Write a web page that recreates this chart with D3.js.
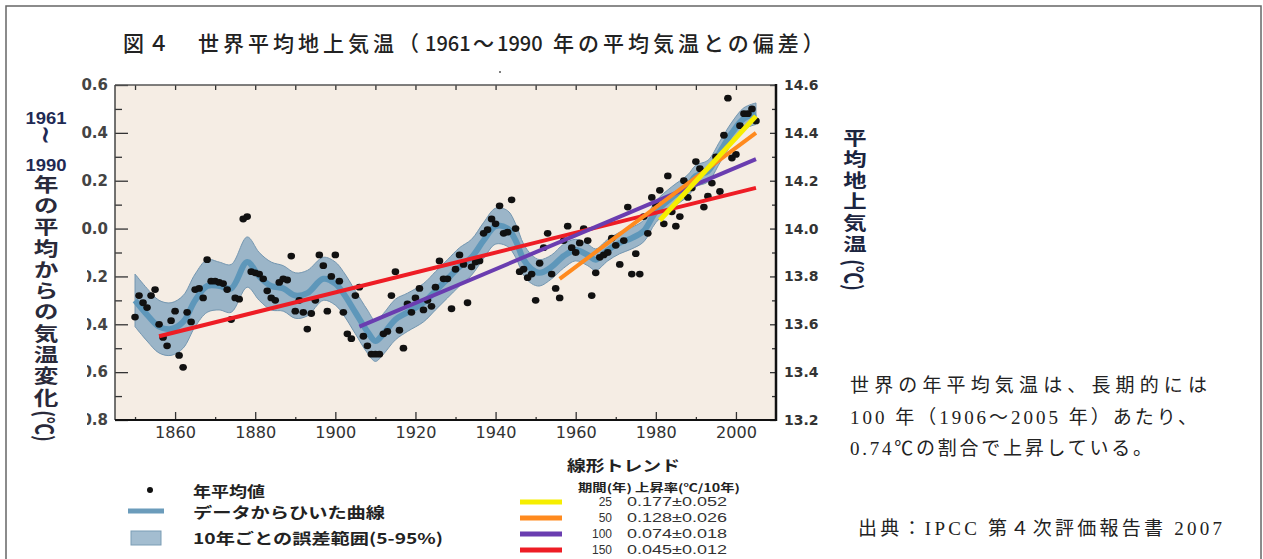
<!DOCTYPE html>
<html>
<head>
<meta charset="utf-8">
<script src="https://cdn.jsdelivr.net/npm/d3@7"></script>
<style>
  body { margin: 0; background: #fff; }
  svg { display: block; }
</style>
</head>
<body>
<script>

// annual global mean anomaly (deg C, vs 1961-1990), one value per year from 1850
var firstYear = 1850;
var anomalies = [
  -0.37, -0.28, -0.31, -0.33, -0.28, -0.255, -0.40, -0.455, -0.49, -0.385,
  -0.345, -0.53, -0.58, -0.35, -0.39, -0.255, -0.25, -0.29, -0.13, -0.22,
  -0.22, -0.225, -0.23, -0.255, -0.38, -0.29, -0.295, 0.04, 0.05, -0.18,
  -0.185, -0.19, -0.21, -0.26, -0.29, -0.30, -0.225, -0.21, -0.215, -0.115,
  -0.345, -0.30, -0.35, -0.42, -0.355, -0.30, -0.11, -0.155, -0.345, -0.20,
  -0.11, -0.22, -0.35, -0.44, -0.46, -0.28, -0.245, -0.45, -0.49, -0.525,
  -0.525, -0.525, -0.44, -0.43, -0.28, -0.18, -0.425, -0.50, -0.315, -0.35,
  -0.29, -0.25, -0.34, -0.30, -0.325, -0.245, -0.135, -0.21, -0.21, -0.335,
  -0.17, -0.11, -0.15, -0.31, -0.16, -0.14, -0.135, -0.02, -0.005, 0.04,
  0.02, 0.095, -0.02, -0.015, 0.12, 0.00, -0.18, -0.17, -0.205, -0.19,
  -0.30, -0.145, -0.08, -0.02, -0.19, -0.25, -0.29, -0.05, 0.01, -0.08,
  -0.10, -0.06, 0.00, -0.05, -0.28, -0.185, -0.12, -0.11, -0.10, -0.04,
  -0.07, -0.15, -0.05, 0.09, -0.19, -0.105, -0.19, 0.05, -0.02, 0.13,
  0.10, 0.16, 0.02, 0.22, 0.07, 0.01, 0.05, 0.20, 0.13, 0.17,
  0.28, 0.25, 0.09, 0.135, 0.19, 0.30, 0.155, 0.39, 0.545, 0.295,
  0.31, 0.43, 0.48, 0.48, 0.50, 0.45
];

// decadal curve and its 5-95% range
var smoothYears = [1850, 1853, 1856, 1859, 1862, 1865, 1868, 1871, 1874, 1878,
  1881, 1884, 1887, 1890, 1893, 1897, 1900, 1902, 1905, 1908,
  1910, 1912, 1915, 1918, 1922, 1925, 1928, 1931, 1934, 1937,
  1940, 1943, 1945, 1947, 1949, 1951, 1954, 1957, 1960, 1963,
  1965, 1968, 1971, 1974, 1977, 1980, 1984, 1988, 1990, 1993,
  1996, 1999, 2002, 2005];
var smoothValues = [-0.30, -0.36, -0.41, -0.42, -0.39, -0.30, -0.24, -0.24, -0.25, -0.14,
  -0.20, -0.24, -0.25, -0.28, -0.27, -0.21, -0.23, -0.27, -0.35, -0.43,
  -0.47, -0.44, -0.38, -0.35, -0.31, -0.26, -0.21, -0.16, -0.12, -0.05,
  0.01, 0.00, -0.05, -0.13, -0.17, -0.185, -0.16, -0.115, -0.09, -0.11,
  -0.13, -0.09, -0.06, -0.04, -0.01, 0.07, 0.13, 0.18, 0.22, 0.24,
  0.32, 0.40, 0.46, 0.48];
var bandHalfWidth = [0.11, 0.11, 0.11, 0.11, 0.11, 0.11, 0.11, 0.10, 0.10, 0.105,
  0.10, 0.10, 0.095, 0.095, 0.095, 0.09, 0.09, 0.09, 0.09, 0.09,
  0.085, 0.085, 0.085, 0.08, 0.08, 0.08, 0.08, 0.08, 0.075, 0.075,
  0.075, 0.075, 0.07, 0.065, 0.06, 0.055, 0.05, 0.05, 0.045, 0.045,
  0.045, 0.045, 0.045, 0.045, 0.045, 0.045, 0.045, 0.045, 0.045, 0.045,
  0.045, 0.045, 0.045, 0.045];

// linear trends
var trendPeriods = ["25", "50", "100", "150"];
var trendRates = ["0.177±0.052", "0.128±0.026", "0.074±0.018", "0.045±0.012"];
var trendStartYear = [1981, 1956, 1906, 1856];
var trendEndYear = [2005, 2005, 2005, 2005];
var trendStartValue = [0.035, -0.21, -0.41, -0.45];
var trendEndValue = [0.47, 0.40, 0.29, 0.17];
var trendColors = ["#f6ee00", "#ff8a1e", "#6a3db0", "#ee1d25"];

// axes
var yTicks = [-0.8, -0.6, -0.4, -0.2, 0.0, 0.2, 0.4, 0.6];
var yTickLabels = ["-0.8", "-0.6", "-0.4", "-0.2", "0.0", "0.2", "0.4", "0.6"];
var yMinorTicks = [-0.7, -0.5, -0.3, -0.1, 0.1, 0.3, 0.5];
var rightTicks = [13.2, 13.4, 13.6, 13.8, 14.0, 14.2, 14.4, 14.6];
var rightTickLabels = ["13.2", "13.4", "13.6", "13.8", "14.0", "14.2", "14.4", "14.6"];
var rightMinorTicks = [13.3, 13.5, 13.7, 13.9, 14.1, 14.3, 14.5];
var xTicks = [1860, 1880, 1900, 1920, 1940, 1960, 1980, 2000];
var xMinorTicks = [1850, 1870, 1890, 1910, 1930, 1950, 1970, 1990];

var jp = "'Noto Sans CJK JP', sans-serif";
var w = 1263, h = 559;
var margin = {top: 85, right: 487, bottom: 139, left: 115};

var svg = d3.select("body").append("svg")
  .attr("width", w)
  .attr("height", h);

// outer frame of the page
svg.append("rect")
  .attr("x", 6).attr("y", 6)
  .attr("width", 1255).attr("height", 600)
  .style("fill", "none")
  .style("stroke", "#666")
  .style("stroke-width", 1.5);

// title, pieces placed one by one so the digits stay tight
var title = svg.append("text")
  .attr("y", 51)
  .style("font-family", jp)
  .style("font-size", "21px")
  .style("font-weight", 500)
  .style("fill", "#222");
title.append("tspan").attr("x", 123).style("letter-spacing", "4px").text("図４　世界平均地上気温（");
title.append("tspan").attr("x", 425).style("font-size", "20px").text("1961");
title.append("tspan").attr("x", 473).text("～");
title.append("tspan").attr("x", 497).style("font-size", "20px").text("1990");
title.append("tspan").attr("x", 553).style("letter-spacing", "4px").text("年の平均気温との偏差）");

var xScale = d3.scaleLinear()
  .domain([1845, 2010])
  .range([margin.left, w - margin.right]);

var yScale = d3.scaleLinear()
  .domain([-0.8, 0.6])
  .range([h - margin.bottom, margin.top]);

var yRight = d3.scaleLinear()
  .domain([13.2, 14.6])
  .range([h - margin.bottom, margin.top]);

var x0 = margin.left, x1 = w - margin.right, y0 = margin.top, y1 = h - margin.bottom;

// plot background
svg.append("rect")
  .attr("x", x0).attr("y", y0)
  .attr("width", x1 - x0).attr("height", y1 - y0)
  .style("fill", "#f5ede4");

svg.append("clipPath").attr("id", "plotclip")
  .append("rect")
  .attr("x", x0).attr("y", y0)
  .attr("width", x1 - x0).attr("height", y1 - y0);

var plot = svg.append("g").attr("clip-path", "url(#plotclip)");

// error band
var band = d3.area()
  .x(function(d, i) { return xScale(smoothYears[i]); })
  .y0(function(d, i) { return yScale(smoothValues[i] - bandHalfWidth[i]); })
  .y1(function(d, i) { return yScale(smoothValues[i] + bandHalfWidth[i]); })
  .curve(d3.curveCatmullRom);

plot.append("path")
  .datum(smoothYears)
  .attr("d", band)
  .style("fill", "#9bb5c8")
  .style("stroke", "#7396b0")
  .style("stroke-width", 1);

// decadal curve
var smoothLine = d3.line()
  .x(function(d, i) { return xScale(smoothYears[i]); })
  .y(function(d, i) { return yScale(smoothValues[i]); })
  .curve(d3.curveCatmullRom);

plot.append("path")
  .datum(smoothYears)
  .attr("d", smoothLine)
  .style("fill", "none")
  .style("stroke", "#5e97ba")
  .style("stroke-width", 6)
  .style("stroke-linejoin", "round");

// yearly values
plot.selectAll(".dot")
  .data(anomalies)
  .enter().append("ellipse")
  .attr("class", "dot")
  .attr("cx", function(d, i) { return xScale(firstYear + i); })
  .attr("cy", function(d) { return yScale(d); })
  .attr("rx", 3.8)
  .attr("ry", 3.4)
  .style("fill", "#111");

// trend lines, longest period drawn first
var order = [3, 2, 1, 0];
order.forEach(function(k) {
  plot.append("line")
    .attr("x1", xScale(trendStartYear[k]))
    .attr("y1", yScale(trendStartValue[k]))
    .attr("x2", xScale(trendEndYear[k]))
    .attr("y2", yScale(trendEndValue[k]))
    .style("stroke", trendColors[k])
    .style("stroke-width", k == 0 ? 5 : 4);
});

// axes
function styleAxis(g, size, weight, color) {
  g.select(".domain").remove();
  g.selectAll("line").style("stroke", "#333").style("stroke-width", 1.3);
  g.selectAll("text")
    .style("font-family", "'DejaVu Sans', sans-serif")
    .style("font-size", size)
    .style("font-weight", weight)
    .style("fill", color);
}

svg.append("g")
  .attr("transform", "translate(" + x0 + ",0)")
  .call(d3.axisLeft(yScale).tickValues(yTicks).tickSize(-13).tickPadding(7)
    .tickFormat(function(d, i) { return yTickLabels[i]; }))
  .call(styleAxis, "15px", "bold", "#444");

svg.append("g")
  .attr("transform", "translate(" + x0 + ",0)")
  .call(d3.axisLeft(yScale).tickValues(yMinorTicks).tickSize(-7).tickFormat(""))
  .call(styleAxis, "15px", "bold", "#444");

svg.append("g")
  .attr("transform", "translate(" + x1 + ",0)")
  .call(d3.axisRight(yRight).tickValues(rightTicks).tickSize(-6).tickPadding(8)
    .tickFormat(function(d, i) { return rightTickLabels[i]; }))
  .call(styleAxis, "14px", "bold", "#333");

svg.append("g")
  .attr("transform", "translate(" + x1 + ",0)")
  .call(d3.axisRight(yRight).tickValues(rightMinorTicks).tickSize(-4).tickFormat(""))
  .call(styleAxis, "14px", "bold", "#333");

svg.append("g")
  .attr("transform", "translate(0," + y1 + ")")
  .call(d3.axisBottom(xScale).tickValues(xTicks).tickSize(-8).tickPadding(7)
    .tickFormat(d3.format("d")))
  .call(styleAxis, "15px", "normal", "#333")
  .selectAll("text")
  .attr("textLength", 41)
  .attr("lengthAdjust", "spacingAndGlyphs");

svg.append("g")
  .attr("transform", "translate(0," + y1 + ")")
  .call(d3.axisBottom(xScale).tickValues(xMinorTicks).tickSize(-3).tickFormat(""))
  .call(styleAxis, "15px", "normal", "#333");

svg.append("g")
  .attr("transform", "translate(0," + y0 + ")")
  .call(d3.axisTop(xScale).tickValues(xTicks.concat(xMinorTicks)).tickSize(-5).tickFormat(""))
  .call(styleAxis, "15px", "normal", "#333");

// plot frame
svg.append("line").attr("x1", x0).attr("y1", y0).attr("x2", x1).attr("y2", y0)
  .style("stroke", "#555").style("stroke-width", 1.5);
svg.append("line").attr("x1", x0).attr("y1", y0).attr("x2", x0).attr("y2", y1)
  .style("stroke", "#444").style("stroke-width", 1.5);
svg.append("line").attr("x1", x1).attr("y1", y0 - 1).attr("x2", x1).attr("y2", y1 + 1)
  .style("stroke", "#111").style("stroke-width", 2.5);
svg.append("line").attr("x1", x0).attr("y1", y1).attr("x2", x1).attr("y2", y1)
  .style("stroke", "#111").style("stroke-width", 2);

// stray mark above the plot
svg.append("circle").attr("cx", 500).attr("cy", 72).attr("r", 1).style("fill", "#555");

// left title sits on a white patch that hides the minus signs
svg.append("rect")
  .attr("x", 8).attr("y", 240)
  .attr("width", 79).attr("height", 205)
  .style("fill", "#fff");

svg.append("text")
  .attr("x", 46).attr("y", 124)
  .attr("text-anchor", "middle")
  .attr("textLength", 41).attr("lengthAdjust", "spacingAndGlyphs")
  .style("font-family", "'Liberation Sans', sans-serif")
  .style("font-size", "16px")
  .style("font-weight", "bold")
  .style("fill", "#1f2a55")
  .text("1961");

svg.append("text")
  .attr("transform", "translate(45,135) rotate(90)")
  .attr("text-anchor", "middle")
  .attr("dominant-baseline", "central")
  .style("font-family", "'DejaVu Sans', sans-serif")
  .style("font-size", "24px")
  .style("font-weight", "bold")
  .style("fill", "#1f2a55")
  .text("~");

svg.append("text")
  .attr("x", 46).attr("y", 171)
  .attr("text-anchor", "middle")
  .attr("textLength", 41).attr("lengthAdjust", "spacingAndGlyphs")
  .style("font-family", "'Liberation Sans', sans-serif")
  .style("font-size", "16px")
  .style("font-weight", "bold")
  .style("fill", "#1f2a55")
  .text("1990");

// vertical Japanese axis titles, glyphs a little widened like the scan
svg.append("text")
  .attr("x", 46).attr("y", 175)
  .attr("transform", "translate(46,0) scale(1.3,1) translate(-46,0)")
  .style("writing-mode", "vertical-rl")
  .style("letter-spacing", "2.3px")
  .style("font-family", jp)
  .style("font-size", "19px")
  .style("font-weight", "bold")
  .style("fill", "#2a2a3a")
  .text("年の平均からの気温変化");

svg.append("text")
  .attr("transform", "translate(46,426) rotate(90) scale(1,1.3)")
  .attr("text-anchor", "middle")
  .attr("dominant-baseline", "central")
  .style("font-family", jp)
  .style("font-size", "18px")
  .style("font-weight", "bold")
  .style("fill", "#2a2a3a")
  .text("(℃)");

svg.append("text")
  .attr("x", 855).attr("y", 129)
  .attr("transform", "translate(855,0) scale(1.3,1) translate(-855,0)")
  .style("writing-mode", "vertical-rl")
  .style("letter-spacing", "3.2px")
  .style("font-family", jp)
  .style("font-size", "18px")
  .style("font-weight", "bold")
  .style("fill", "#1c2540")
  .text("平均地上気温");

svg.append("text")
  .attr("transform", "translate(855,275) rotate(90) scale(1,1.3)")
  .attr("text-anchor", "middle")
  .attr("dominant-baseline", "central")
  .style("font-family", jp)
  .style("font-size", "18px")
  .style("font-weight", "bold")
  .style("fill", "#1c2540")
  .text("(℃)");

// note on the right
var note = ["世界の年平均気温は、長期的には",
  "100 年（1906～2005 年）あたり、",
  "0.74℃の割合で上昇している。"];
var noteLength = [357, 347, 302];
svg.selectAll(".note")
  .data(note)
  .enter().append("text")
  .attr("class", "note")
  .attr("x", 850)
  .attr("y", function(d, i) { return 392 + i * 31.5; })
  .attr("textLength", function(d, i) { return noteLength[i]; })
  .attr("lengthAdjust", "spacing")
  .style("font-family", "'Liberation Serif', 'Noto Sans CJK JP', serif")
  .style("font-size", "19px")
  .style("fill", "#222")
  .text(function(d) { return d; });

svg.append("text")
  .attr("x", 858).attr("y", 535)
  .attr("textLength", 364)
  .attr("lengthAdjust", "spacing")
  .style("font-family", "'Liberation Serif', 'Noto Sans CJK JP', serif")
  .style("font-size", "19px")
  .style("fill", "#222")
  .text("出典：IPCC 第４次評価報告書 2007");

// legend, left block
var leg = svg.append("g")
  .style("font-family", jp)
  .style("font-size", "15px")
  .style("font-weight", "bold")
  .style("fill", "#222");

leg.append("circle").attr("cx", 150).attr("cy", 490).attr("r", 3).style("fill", "#111");
leg.append("line").attr("x1", 128).attr("y1", 511).attr("x2", 164).attr("y2", 511)
  .style("stroke", "#6b9cbb").style("stroke-width", 5);
leg.append("rect").attr("x", 131).attr("y", 531).attr("width", 30).attr("height", 14)
  .style("fill", "#a3bdd0").style("stroke", "#7b9db5");

leg.append("text").attr("x", 193).attr("y", 497)
  .attr("textLength", 72).attr("lengthAdjust", "spacingAndGlyphs")
  .text("年平均値");
leg.append("text").attr("x", 193).attr("y", 518)
  .attr("textLength", 192).attr("lengthAdjust", "spacingAndGlyphs")
  .text("データからひいた曲線");
leg.append("text").attr("x", 193).attr("y", 544)
  .attr("textLength", 250).attr("lengthAdjust", "spacingAndGlyphs")
  .text("10年ごとの誤差範囲(5-95%)");

// legend, linear trends
var tleg = svg.append("g")
  .style("font-family", jp)
  .style("font-weight", "bold")
  .style("fill", "#222");

tleg.append("text").attr("x", 567).attr("y", 471)
  .attr("textLength", 113).attr("lengthAdjust", "spacingAndGlyphs")
  .style("font-size", "15px")
  .text("線形トレンド");

tleg.append("text").attr("x", 578).attr("y", 492)
  .attr("textLength", 162).attr("lengthAdjust", "spacingAndGlyphs")
  .style("font-size", "11px")
  .text("期間(年) 上昇率(℃/10年)");

trendPeriods.forEach(function(p, i) {
  var yy = 502 + i * 16;
  tleg.append("line")
    .attr("x1", 520).attr("y1", yy).attr("x2", 562).attr("y2", yy)
    .style("stroke", trendColors[i]).style("stroke-width", 5);
  tleg.append("text")
    .attr("x", 612).attr("y", yy + 4)
    .attr("text-anchor", "end")
    .style("font-family", "'Liberation Sans', sans-serif")
    .style("font-weight", "normal")
    .style("font-size", "12px")
    .style("fill", "#333")
    .text(p);
  tleg.append("text")
    .attr("x", 627).attr("y", yy + 4)
    .attr("textLength", 100).attr("lengthAdjust", "spacingAndGlyphs")
    .style("font-family", "'Liberation Sans', sans-serif")
    .style("font-weight", "normal")
    .style("font-size", "12px")
    .style("fill", "#333")
    .text(trendRates[i]);
});

</script>
</body>
</html>
